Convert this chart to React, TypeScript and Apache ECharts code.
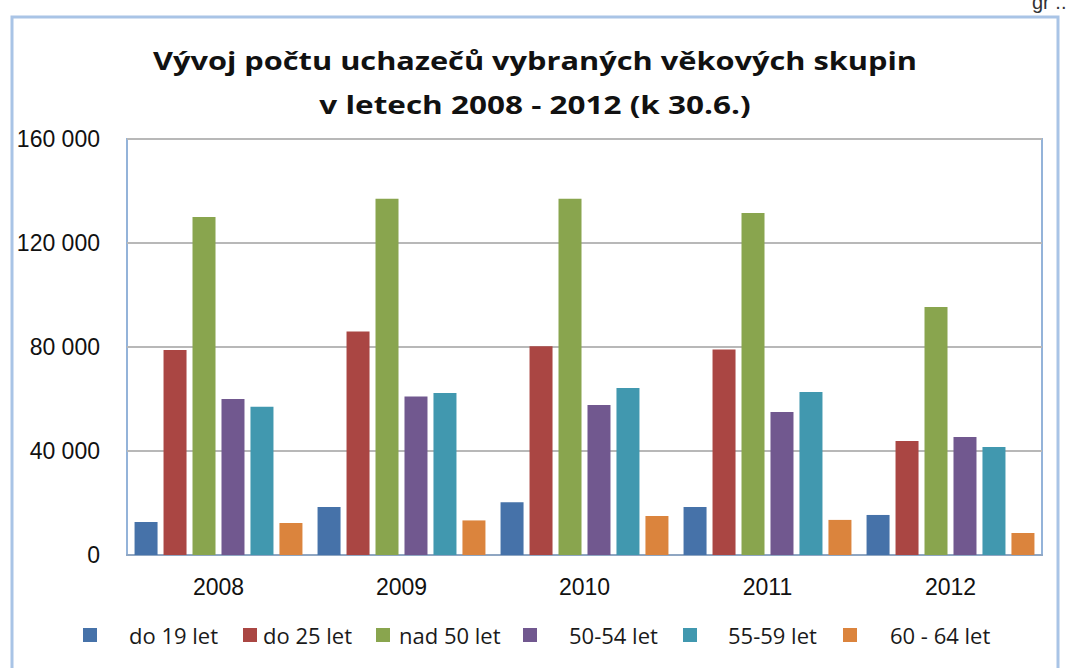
import React, { useEffect, useRef } from "react";
import * as echarts from "echarts";

const categories = ["2008", "2009", "2010", "2011", "2012"];
const seriesNames = ["do 19 let", "do 25 let", "nad 50 let", "50-54 let", "55-59 let", "60 - 64 let"];
const do19 = [12700, 18500, 20300, 18500, 15400];
const do25 = [78800, 86000, 80300, 79000, 43800];
const nad50 = [130000, 137000, 137000, 131500, 95400];
const s5054 = [60000, 61000, 57700, 55000, 45400];
const s5559 = [57000, 62300, 64200, 62700, 41500];
const s6064 = [12300, 13300, 15000, 13500, 8500];
const yTicks = [0, 40000, 80000, 120000, 160000];
const titleLines = ["Vývoj počtu uchazečů vybraných věkových skupin", "v letech 2008 - 2012 (k 30.6.)"];

const seriesData = [do19, do25, nad50, s5054, s5559, s6064];
const colors = ["#4672a9", "#aa4643", "#89a54e", "#71588f", "#4198af", "#db843d"];
// legend layout: [marker x, text x]
const legendLayout = [
  [83, 129],
  [243, 263],
  [376, 399],
  [523, 569],
  [683, 728],
  [843, 890],
];

function fmt(v: number): string {
  return String(v).replace(/\B(?=(\d{3})+(?!\d))/g, " ");
}

export default function App() {
  const ref = useRef<HTMLDivElement>(null);
  useEffect(() => {
    if (!ref.current) return;
    const chart = echarts.init(ref.current, null, { renderer: "svg" });
    const legends = seriesNames.map((name, i) => ({
      data: [name],
      left: legendLayout[i][0],
      top: 624,
      orient: "horizontal",
      padding: 0,
      itemWidth: 14,
      itemHeight: 14,
      icon: "rect",
      selectedMode: false,
      textStyle: {
        fontFamily: "Open Sans",
        fontSize: 22,
        lineHeight: 22,
        color: "#1a1a1a",
        padding: [0, 0, 0, legendLayout[i][1] - legendLayout[i][0] - 19],
      },
    }));
    chart.setOption({
      animation: false,
      color: colors,
      legend: legends,
      grid: {
        left: 127,
        right: 45,
        top: 139,
        bottom: 113,
        show: true,
        borderColor: "#94b3d9",
        borderWidth: 2,
        containLabel: false,
      },
      xAxis: {
        type: "category",
        data: categories,
        axisTick: { show: false },
        axisLine: { show: true, lineStyle: { color: "#8fa6c2", width: 2 } },
        axisLabel: {
          fontFamily: "Liberation Sans",
          fontSize: 23,
          color: "#111",
          margin: 20,
        },
      },
      yAxis: {
        type: "value",
        min: 0,
        max: 160000,
        interval: 40000,
        axisLine: { show: false },
        axisTick: { show: false },
        splitLine: { show: true, lineStyle: { color: "#b8b8b8", width: 2 } },
        axisLabel: {
          fontFamily: "Liberation Sans",
          fontSize: 23,
          color: "#111",
          margin: 27,
          formatter: (v: number) => (yTicks.includes(v) ? fmt(v) : ""),
        },
      },
      series: seriesNames.map((name, i) => ({
        name,
        type: "bar",
        data: seriesData[i],
        barWidth: 23,
        barGap: "26%",
        itemStyle: { color: colors[i] },
      })),
      graphic: [
        {
          type: "rect",
          shape: { x: 12, y: 17, width: 1046, height: 700 },
          style: { fill: "none", stroke: "#a9c4e6", lineWidth: 3 },
          silent: true,
        },
        ...titleLines.map((t, i) => ({
          type: "text",
          x: 535,
          y: i === 0 ? 60 : 104,
          scaleX: i === 0 ? 1.23 : 1.26,
          style: {
            text: t,
            fontFamily: "Open Sans",
            fontWeight: "bold",
            fontSize: 25,
            fill: "#111",
            align: "center",
            verticalAlign: "middle",
          },
          silent: true,
        })),
        {
          type: "text",
          x: 1032,
          y: -8,
          style: {
            text: "gr ..",
            fontFamily: "Liberation Sans",
            fontSize: 20,
            fill: "#333",
          },
          silent: true,
        },
      ],
    });
    return () => chart.dispose();
  }, []);
  return (
    <div
      ref={ref}
      style={{ position: "absolute", left: 0, top: 0, width: 1087, height: 668, background: "#fff" }}
    />
  );
}
